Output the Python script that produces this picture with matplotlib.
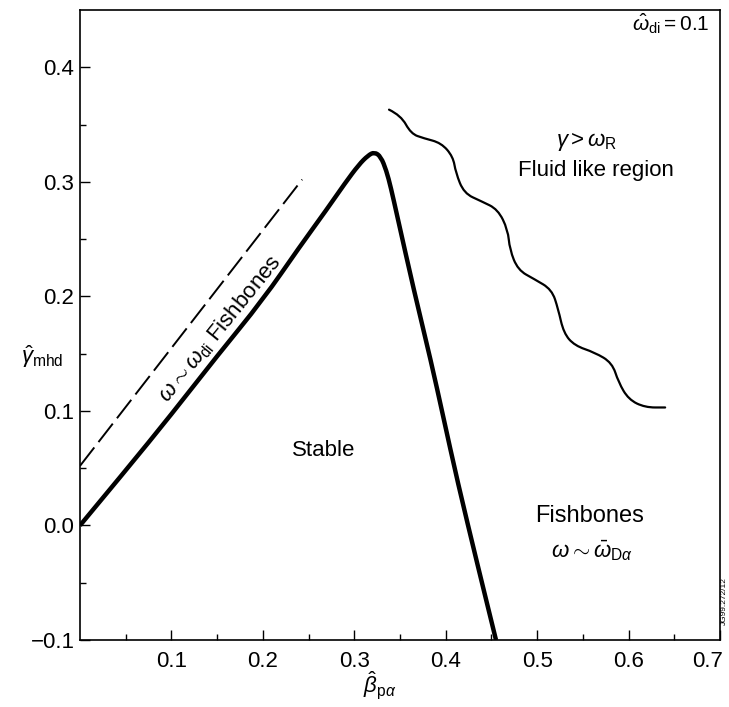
import numpy as np
import matplotlib
matplotlib.use("Agg")
import matplotlib.pyplot as plt
import matplotlib.transforms as mtransforms
from matplotlib.path import Path
from matplotlib.patches import PathPatch

plt.rcParams['font.family'] = ['Liberation Sans', 'DejaVu Sans']
plt.rcParams['mathtext.fontset'] = 'custom'
plt.rcParams['mathtext.rm'] = 'Liberation Sans'
plt.rcParams['mathtext.it'] = 'Liberation Sans:italic'
plt.rcParams['mathtext.bf'] = 'Liberation Sans:bold'

# marginal stability curve (thick solid)
beta_stab = [0.0, 0.05, 0.10, 0.15, 0.20, 0.24, 0.27, 0.29, 0.305, 0.315, 0.322,
             0.329, 0.335, 0.340, 0.347, 0.365, 0.384, 0.397, 0.413, 0.435, 0.455]
gamma_stab = [0.0, 0.048, 0.097, 0.148, 0.197, 0.243, 0.276, 0.299, 0.315, 0.323, 0.326,
              0.322, 0.310, 0.295, 0.270, 0.206, 0.143, 0.096, 0.038, -0.035, -0.100]

# omega ~ omega_di boundary (dashed)
beta_dash = [0.0, 0.243]
gamma_dash = [0.052, 0.302]

# fluid-like region boundary (wavy)
beta_wave = [0.338, 0.351, 0.362, 0.376, 0.395, 0.408, 0.411, 0.420, 0.439, 0.457,
             0.468, 0.470, 0.479, 0.497, 0.516, 0.523, 0.529, 0.541, 0.563, 0.582,
             0.589, 0.600, 0.618, 0.640]
gamma_wave = [0.363, 0.358, 0.342, 0.338, 0.334, 0.322, 0.308, 0.290, 0.283, 0.276,
              0.258, 0.241, 0.223, 0.215, 0.206, 0.189, 0.168, 0.157, 0.151, 0.142,
              0.125, 0.110, 0.103, 0.103]

xticks = [0.1, 0.2, 0.3, 0.4, 0.5, 0.6, 0.7]
xticklabels = ['0.1', '0.2', '0.3', '0.4', '0.5', '0.6', '0.7']
yticks = [-0.1, 0.0, 0.1, 0.2, 0.3, 0.4]
yticklabels = ['\u22120.1', '0.0', '0.1', '0.2', '0.3', '0.4']


def smooth_path(xs, ys):
    # quadratic bezier pieces, read points act as control points
    pts = np.column_stack([xs, ys])
    verts = [pts[0]]
    codes = [Path.MOVETO]
    for i in range(1, len(pts) - 1):
        verts += [pts[i], (pts[i] + pts[i + 1]) / 2]
        codes += [Path.CURVE3, Path.CURVE3]
    verts.append(pts[-1])
    codes.append(Path.LINETO)
    return Path(verts, codes)


fig = plt.figure(figsize=(7.29, 7.07), dpi=100)
ax = fig.add_axes([80 / 729, 67 / 707, 640 / 729, 630 / 707])

ax.add_patch(PathPatch(smooth_path(beta_stab, gamma_stab), fill=False, lw=3.2,
                       color='black', capstyle='butt', joinstyle='round'))
ax.plot(beta_dash, gamma_dash, color='black', lw=1.4, dashes=(12, 3.5))
ax.add_patch(PathPatch(smooth_path(beta_wave, gamma_wave), fill=False, lw=1.6,
                       color='black', capstyle='round', joinstyle='round'))

ax.set_xlim(0, 0.7)
ax.set_ylim(-0.1, 0.45)
ax.set_xticks(xticks)
ax.set_xticklabels(xticklabels)
ax.set_yticks(yticks)
ax.set_yticklabels(yticklabels)
ax.set_xticks(np.arange(0.05, 0.7, 0.1), minor=True)
ax.set_yticks(np.arange(-0.05, 0.45, 0.1), minor=True)
ax.tick_params(which='both', direction='in', labelsize=16, width=1.0)
ax.tick_params(which='major', length=7)
ax.tick_params(which='minor', length=4)
ax.tick_params(axis='x', pad=8)
ax.tick_params(axis='y', pad=4)
for sp in ax.spines.values():
    sp.set_linewidth(1.2)

# last x label sits at the figure edge, nudge it left a bit
lab = ax.get_xticklabels()[-1]
lab.set_transform(lab.get_transform() +
                  mtransforms.ScaledTranslation(-9 / 72, 0, fig.dpi_scale_trans))

ax.set_xlabel(r'$\hat{\beta}_{\mathrm{p}\alpha}$', fontsize=16)
ax.xaxis.set_label_coords(0.469, -0.047)
ax.text(-0.064, 0.147, r'$\hat{\gamma}_{\mathrm{mhd}}$', fontsize=16,
        ha='left', va='center')

ax.text(0.266, 0.065, 'Stable', fontsize=16, ha='center', va='center')
ax.text(0.554, 0.335, r'$\gamma > \omega_{\mathrm{R}}$', fontsize=16,
        ha='center', va='center')
ax.text(0.564, 0.310, 'Fluid like region', fontsize=16, ha='center', va='center')
ax.text(0.557, 0.008, 'Fishbones', fontsize=17, ha='center', va='center')
ax.text(0.560, -0.022, r'$\omega \sim \bar{\omega}_{\mathrm{D}\alpha}$',
        fontsize=16, ha='center', va='center')
ax.text(0.153, 0.172, r'$\omega \sim \omega_{\mathrm{di}}$ Fishbones', fontsize=16,
        ha='center', va='center', rotation=51, rotation_mode='anchor')
ax.text(0.689, 0.438, r'$\hat{\omega}_{\mathrm{di}} = 0.1$', fontsize=15,
        ha='right', va='center')
fig.text(0.994, 0.15, 'JG99.272/12', fontsize=6, rotation=90,
         ha='center', va='center')

fig.savefig('out.png', dpi=100)
